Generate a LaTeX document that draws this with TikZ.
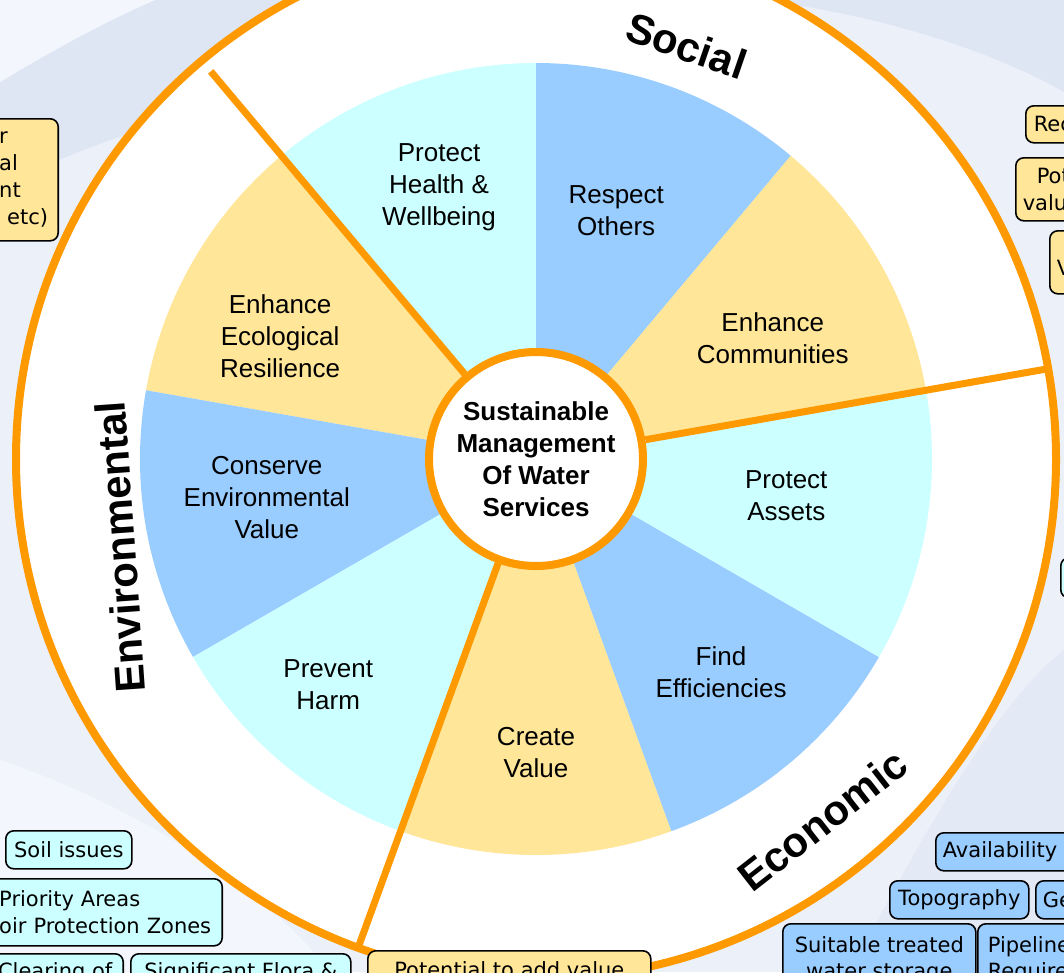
\documentclass[tikz,border=0pt]{standalone}
\usepackage{fontspec}
\setmainfont{Liberation Sans}
\newfontfamily\tagfont{DejaVu Sans}
\usepackage{tikz}

\definecolor{wheelorange}{HTML}{FF9900}
\definecolor{palecyan}{HTML}{CCFFFF}
\definecolor{paleblue}{HTML}{99CCFF}
\definecolor{paleyellow}{HTML}{FFE699}
\definecolor{bgbase}{HTML}{ECF0F9}
\definecolor{bglight}{HTML}{F3F6FC}
\definecolor{bgdark}{HTML}{DFE6F3}

\begin{document}
\begin{tikzpicture}[x=1pt, y=-1pt,
	rim/.style={draw=wheelorange, line width=8pt},
	divider/.style={draw=wheelorange, line width=7pt},
	hub/.style={circle, draw=wheelorange, line width=8pt, fill=white, minimum size=214pt, inner sep=0pt, align=center, font=\bfseries\fontsize{26}{32}\selectfont},
	sector/.style={align=center, inner sep=0pt, font=\fontsize{26}{32}\selectfont},
	pillar/.style={inner sep=0pt, font=\bfseries\fontsize{42}{50}\selectfont},
	tag/.style={draw=black, line width=1.6pt, rounded corners=8pt, inner ysep=0pt, font=\tagfont\fontsize{21}{26.5}\selectfont}]
	\useasboundingbox (0,0) rectangle (1064,972);
	\clip (0,0) rectangle (1064,972);

	% background swooshes
	\fill[bgbase] (0,0) rectangle (1064,972);
	\fill[bgdark] (0,82) .. controls (50,52) and (100,24) .. (155,0) -- (620,0) -- (620,110) -- (125,135) .. controls (80,150) and (40,168) .. (0,185) -- cycle;
	\fill[bglight] (0,0) -- (155,0) .. controls (100,24) and (50,52) .. (0,82) -- cycle;
	\fill[bgdark] (760,0) .. controls (880,15) and (990,50) .. (1064,92) -- (1064,0) -- cycle;
	\fill[bgdark!70!bgbase] (850,972) .. controls (930,820) and (1000,700) .. (1064,650) -- (1064,972) -- cycle;
	\fill[bglight] (0,760) .. controls (120,800) and (260,880) .. (330,972) -- (0,972) -- cycle;

	\begin{scope}[shift={(536,459)}, y=1pt]
	\fill[white] (0,0) circle[radius=520];
	\foreach \a/\col in {90/palecyan,130/paleyellow,170/paleblue,210/palecyan,250/paleyellow,290/paleblue,330/palecyan,370/paleyellow,410/paleblue}
		\fill[\col] (0,0) -- (\a:396) arc[start angle=\a, delta angle=40, radius=396] -- cycle;
	\draw[rim] (0,0) circle[radius=520];

	\foreach \ang/\rad/\txt [count=\i] in {109.6/289/{Protect\\Health \&\\Wellbeing},
		154.3/284/{Enhance\\Ecological\\Resilience},
		188.2/272/{Conserve\\Environmental\\Value},
		227.4/307/{Prevent\\Harm},
		270/294/{Create\\Value},
		311/282/{Find\\Efficiencies},
		351.6/253/{Protect\\Assets},
		27.1/266/{Enhance\\Communities},
		72.1/261/{Respect\\Others}}
		\node[sector] (sec\i) at (\ang:\rad) {\txt};

	\node[hub] (hub) at (0,0) {Sustainable\\Management\\Of Water\\Services};
	\coordinate (endA) at (130:506);
	\coordinate (endB) at (10:519);
	\coordinate (endC) at (-110:518);
	\draw[divider] (hub.130) -- (endA);
	\draw[divider] (hub.10) -- (endB);
	\draw[divider] (hub.-110) -- (endC);

	\node[pillar, rotate=-19] (social) at (70:440) {Social};
	\node[pillar, rotate=94] (environ) at (192:425) {Environmental};
	\node[pillar, rotate=38] (econ) at (-51.6:461) {Economic};
	\end{scope}

	% side tags (cut by the frame)
	\node[tag, fill=paleyellow, anchor=north east, align=left, text width=49pt, inner xsep=10pt, minimum height=122pt, font=\tagfont\fontsize{21}{27}\selectfont] (leftA) at (59,118) {r\\al\\nt\\\hspace*{8pt}etc)};
	\node[tag, fill=paleyellow, anchor=north west, align=left, text width=150pt, inner xsep=8pt, minimum height=37pt] (rec) at (1025,105) {Rec};
	\node[tag, fill=paleyellow, anchor=north west, align=left, text width=150pt, inner xsep=7pt, minimum height=63pt] (pot) at (1015,157) {\hspace*{14pt}Pot\\valu};
	\node[tag, fill=paleyellow, anchor=north west, align=left, text width=150pt, inner xsep=7pt, minimum height=63pt] (vbox) at (1049,230) {\mbox{}\\V};
	\node[tag, fill=palecyan, anchor=north west, text width=150pt, inner xsep=8pt, minimum height=40pt] (rcyan) at (1060,557) {};

	\node[tag, fill=paleblue, anchor=north west, align=left, text width=200pt, inner xsep=7pt, minimum height=38pt] (avail) at (935,832) {Availability};
	\node[tag, fill=paleblue, anchor=north west, minimum width=139pt, minimum height=38pt] (topo) at (889,880) {Topography};
	\node[tag, fill=paleblue, anchor=north west, align=left, text width=150pt, inner xsep=7pt, minimum height=38pt] (geo) at (1035,880) {Ge};
	\node[tag, fill=paleblue, anchor=north west, align=center, minimum width=193pt, minimum height=72pt] (store) at (782,923) {Suitable treated\\water storage};
	\node[tag, fill=paleblue, anchor=north west, align=left, text width=150pt, inner xsep=10pt, minimum height=72pt] (pipe) at (977,923) {Pipeline\\Require};

	\node[tag, fill=palecyan, anchor=north west, minimum width=126pt, minimum height=38pt] (soil) at (5,830) {Soil issues};
	\node[tag, fill=palecyan, anchor=north east, align=left, text width=215pt, inner xsep=8pt, minimum height=67pt] (prio) at (223,878) {Priority Areas\\oir Protection Zones};
	\node[tag, fill=palecyan, anchor=north east, minimum width=136pt, minimum height=38pt] (clear) at (124,953) {Clearing of};
	\node[tag, fill=palecyan, anchor=north west, minimum width=220pt, minimum height=38pt] (flora) at (130,953) {Significant Flora \&};
	\node[tag, fill=paleyellow, anchor=north west, minimum width=283pt, minimum height=38pt] (value) at (367,950) {Potential to add value};
\end{tikzpicture}
\end{document}
